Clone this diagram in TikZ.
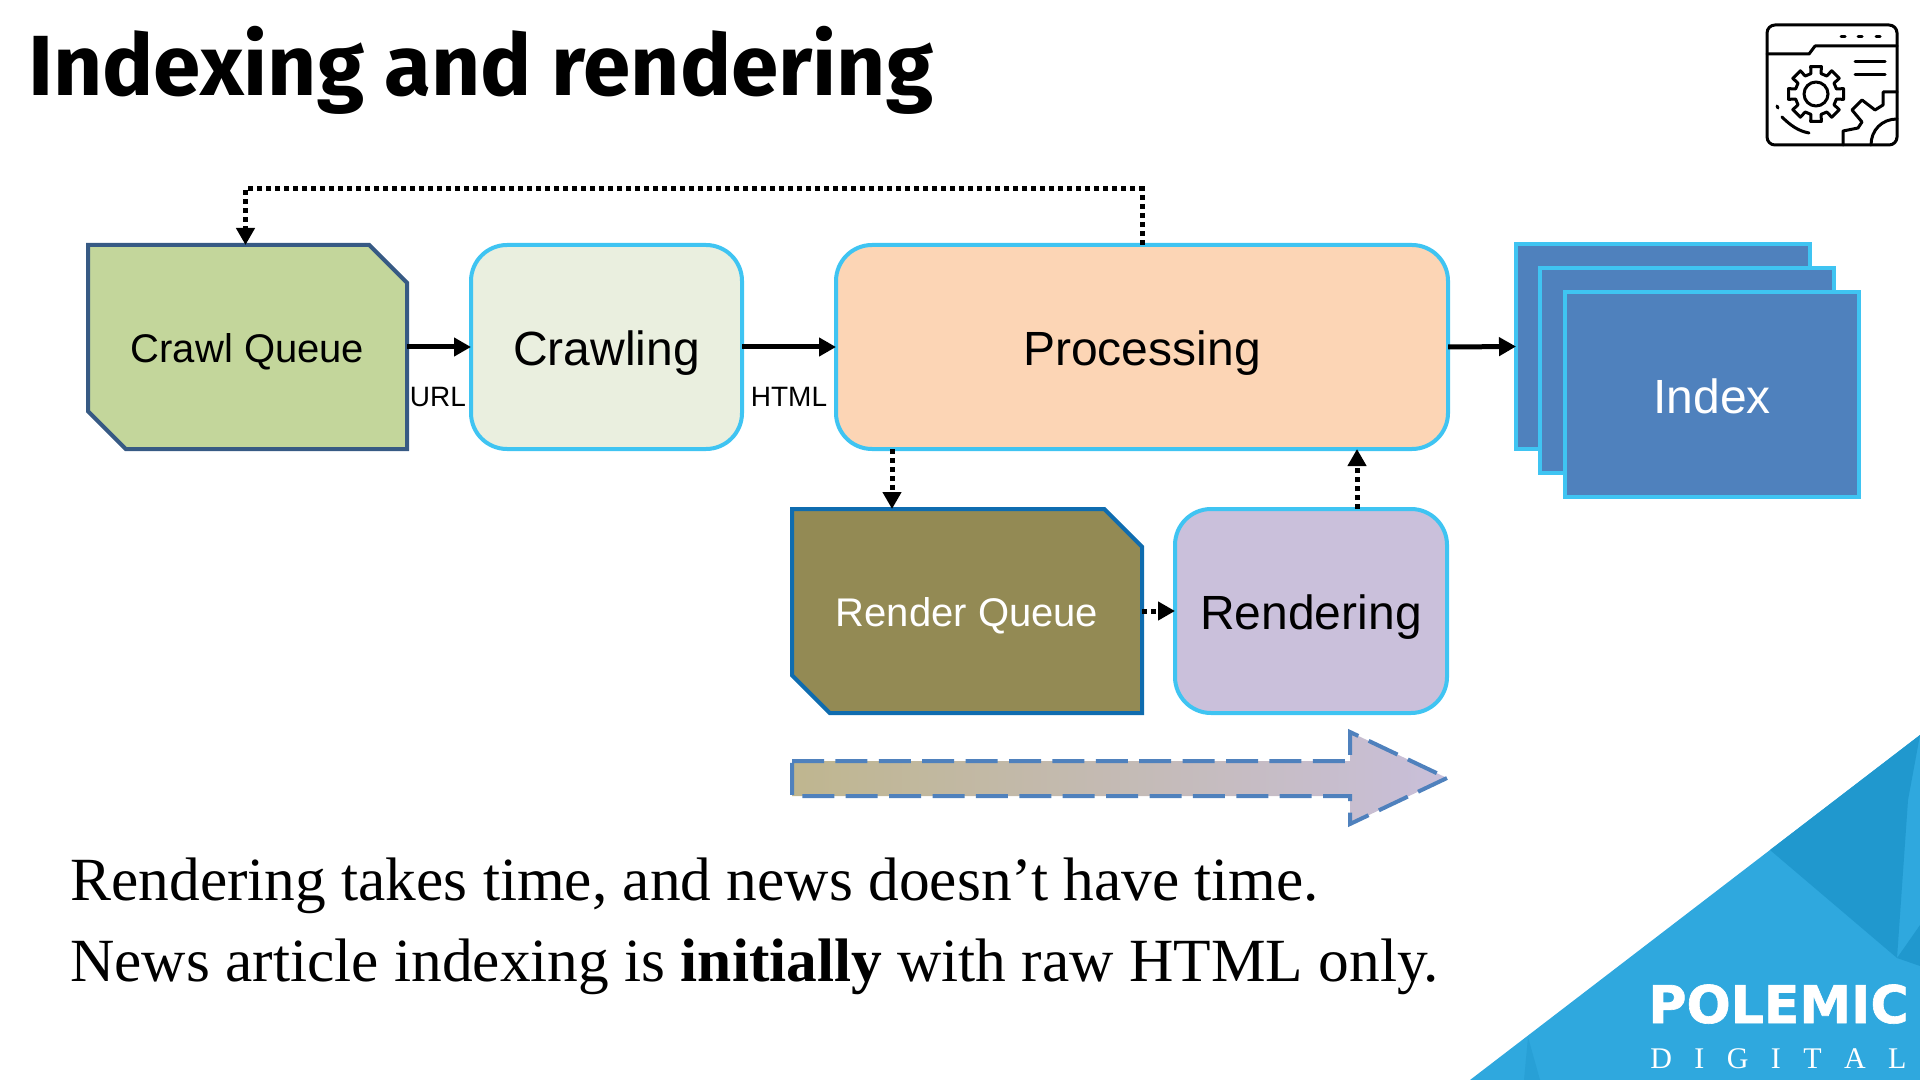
\documentclass[tikz,border=0pt]{standalone}
\usepackage{fontspec}
\setmainfont{Liberation Sans}
\newfontfamily\titlefont{Fira Sans}
\newfontfamily\bodyfont{Liberation Serif}
\newfontfamily\logofont{DejaVu Sans}[BoldFeatures={FakeBold=1.2}]
\usetikzlibrary{arrows.meta,shapes.misc}
\definecolor{edgeblue}{HTML}{3FC4F2}
\definecolor{dashblue}{HTML}{4F81BD}
\definecolor{cornerblue}{HTML}{2FA8DE}
\definecolor{facetblue}{HTML}{2098CE}
\tikzset{
  queue/.style={chamfered rectangle,chamfered rectangle corners={north east,south west},
    chamfered rectangle xsep=11.2pt,chamfered rectangle ysep=11.2pt,line width=2pt,outer sep=0pt,inner sep=0pt,text height=15.3pt,text depth=0pt,font=\fontsize{20}{24}\selectfont},
  stage/.style={draw=edgeblue,rounded corners=18pt,line width=2pt,outer sep=0pt,inner sep=0pt,text height=18.5pt,text depth=0pt,font=\fontsize{24}{28}\selectfont},
  sheet/.style={stage,rounded corners=0pt,fill=dashblue,minimum width=147pt,minimum height=102pt,text=white},
  flow/.style={line width=2.5pt,-{Triangle[length=8.5pt,width=9pt]}},
  later/.style={flow,dash pattern=on 2.5pt off 2pt},
  tag/.style={font=\fontsize{14}{16}\selectfont,inner sep=0pt},
  iconline/.style={line width=1.5pt,line cap=round,line join=round}
}
\begin{document}
\begin{tikzpicture}[x=0.5pt,y=-0.5pt]
\useasboundingbox (0,0) rectangle (1920,1080);

\begin{scope}
\clip (1470,1080) -- (1920,735) -- (1920,1080) -- cycle;
\fill[cornerblue] (1470,1080) -- (1920,735) -- (1920,1080) -- cycle;
\fill[facetblue] (1770,850) -- (1920,735) -- (1908,800) -- (1897,958) -- cycle;
\fill[facetblue] (1897,958) -- (1920,925) -- (1920,966) -- cycle;
\fill[facetblue!50!cornerblue] (1528,1037) -- (1540,1080) -- (1524,1080) -- cycle;
\end{scope}
\node[font=\logofont\bfseries\fontsize{26}{28}\selectfont,text=white,anchor=base west,inner sep=0pt] (polemic) at (1648,1023) {POLEMIC};
\node[font=\bodyfont\fontsize{15}{18}\selectfont,text=white,anchor=base west,inner sep=0pt] (digital) at (1650,1068)
  {\makebox[128pt][s]{D\hfill I\hfill G\hfill I\hfill T\hfill A\hfill L}};

\node[font=\titlefont\bfseries\fontsize{42.7}{50}\selectfont,anchor=base west,inner sep=0pt] (title) at (28,96) {Indexing and rendering};

% icon
\draw[iconline,rounded corners=4pt] (1767,25) rectangle (1897,145);
\draw[iconline] (1767,54) -- (1809,54) -- (1815,46) -- (1897,46);
\foreach \x in {1843,1860,1878} \draw[iconline] (\x-2,37) -- (\x+2,37);
\draw[iconline] (1855,62) -- (1885,62);
\draw[iconline] (1855,75) -- (1885,75);
\coordinate (gear) at (1816,94);
\draw[iconline] (gear) circle (6pt);
\draw[iconline] ([shift={(-14:21)}]gear)
  \foreach \a in {0,45,...,315} {
    -- ([shift={(\a-14:21)}]gear) -- ([shift={(\a-11:28)}]gear) -- ([shift={(\a+11:28)}]gear) -- ([shift={(\a+14:21)}]gear)
  } -- cycle;
\draw[iconline] (1777,106) -- (1778,108);
\draw[iconline] (1782,117) .. controls (1790,125) and (1798,131) .. (1809,133);
\draw[iconline] (1843,145) -- (1843,131) -- (1858,128) -- (1862,122) -- (1852,110) -- (1862,100) -- (1875,110) -- (1883,105) -- (1883,92) -- (1897,92);
\draw[iconline] (1871,145) .. controls (1871,130) and (1882,119) .. (1897,119);

\node[queue,draw=dashblue!70!black,fill={rgb,255:red,195;green,214;blue,155},minimum width=159.5pt,minimum height=102pt] (crawlq) at (247.5,347) {Crawl Queue};
\node[stage,fill={rgb,255:red,234;green,239;blue,223},minimum width=135.5pt,minimum height=102pt] (crawl) at (606.5,347) {Crawling};
\node[stage,fill={rgb,255:red,252;green,213;blue,181},minimum width=306pt,minimum height=102pt] (proc) at (1142,347) {Processing};
\node[sheet] (indexa) at (1663,346.5) {};
\node[sheet] (indexb) at (1687,370.5) {};
\node[sheet] (index) at (1712,394.5) {Index};
\node[queue,draw={rgb,255:red,15;green,108;blue,175},fill={rgb,255:red,147;green,138;blue,84},text=white,minimum width=175pt,minimum height=102pt] (renderq) at (967,611) {Render Queue};
\node[stage,fill={rgb,255:red,202;green,192;blue,219},minimum width=136pt,minimum height=102pt] (render) at (1311,611) {Rendering};

\draw[flow] (crawlq.east) -- (crawl.west);
\draw[flow] (crawl.east) -- (proc.west);
\draw[flow] (proc.east) -- (indexa.west);
\coordinate (loopdrop) at (245.5,245);
\draw[later] (proc.north) -- (1142,189) -| (loopdrop);
\coordinate (procdown) at (892,449);
\coordinate (procup) at (1357,449);
\draw[later] (procdown) -- (procdown |- renderq.north);
\draw[later] (procup |- render.north) -- (procup);
\draw[later] (renderq.east) -- (render.west);

\node[tag] (url) at (438,397) {URL};
\node[tag] (html) at (789,397) {HTML};

\draw[draw=dashblue,line width=2pt,dash pattern=on 16pt off 5.7pt,left color={rgb,255:red,191;green,182;blue,143},right color={rgb,255:red,201;green,191;blue,218}]
  (792,761) -- (1350,761) -- (1350,732) -- (1447,778) -- (1350,824) -- (1350,796) -- (792,796) -- cycle;

\node[font=\bodyfont\fontsize{30.7}{36}\selectfont,anchor=base west,inner sep=0pt] (lineone) at (70,900) {Rendering takes time, and news doesn’t have time.};
\node[font=\bodyfont\fontsize{30.7}{36}\selectfont,anchor=base west,inner sep=0pt] (linetwo) at (70,981) {News article indexing is \textbf{initially} with raw HTML only.};

\end{tikzpicture}
\end{document}
